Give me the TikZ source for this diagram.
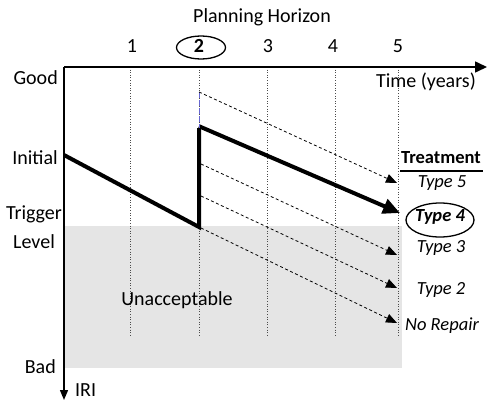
\documentclass[tikz,border=0pt]{standalone}
\usepackage{fontspec}
\setmainfont{Carlito}
\usetikzlibrary{arrows.meta,shapes.geometric}
\begin{document}
\begin{tikzpicture}[x=1pt,y=-1pt,
  lab/.style={inner sep=0pt,font=\fontsize{20}{22}\selectfont},
  tlab/.style={inner sep=0pt,font=\fontsize{18.5}{20}\selectfont\itshape},
  axis/.style={line width=1.6pt,-{Triangle[length=12pt,width=11pt]}},
  gridline/.style={black!70,line width=0.6pt,dotted},
  unacc/.style={fill=black!10},
  perf/.style={line width=4pt,line cap=butt,line join=miter},
  perfarrow/.style={line width=4pt,-{Triangle[length=17pt,width=15pt]}},
  option/.style={line width=0.8pt,dash pattern=on 3pt off 2.5pt,-{Triangle[length=11pt,width=9pt]}},
  ring/.style={draw,ellipse,line width=1.3pt}]
\useasboundingbox (0,0) rectangle (487,402);
% unacceptable zone
\fill[unacc] (64,226) rectangle (402,368);
% grid lines
\foreach \x in {130,199,267,335,398}
  \draw[gridline] (\x,67) -- (\x,337);
% axes
\coordinate (O) at (64,67);
\coordinate (xend) at (487,67);
\coordinate (yend) at (64,400);
\draw[axis] (O) -- (xend);
\draw[axis,line width=1.4pt,-{Triangle[length=10pt,width=8pt]}] (O) -- (yend);
% top labels
\node[lab] (ph) at (262,17) {Planning Horizon};
\node[lab] (n1) at (132,46) {1};
\node[lab,font=\fontsize{20}{22}\selectfont\bfseries] (n2) at (199,46) {2};
\node[ring,minimum width=49pt,minimum height=23pt,inner sep=0pt] (r2) at (201,47.5) {};
\node[lab] (n3) at (268,46) {3};
\node[lab] (n4) at (333,46) {4};
\node[lab] (n5) at (398,46) {5};
\node[lab,anchor=east] (time) at (476,82) {Time (years)};
% left labels
\node[lab,anchor=east] (good) at (58,78) {Good};
\node[lab,anchor=east] (init) at (58,158) {Initial};
\node[lab] (trig) at (34,214) {Trigger};
\node[lab] (lvl) at (34,242) {Level};
\node[lab,anchor=east] (bad) at (56,367) {Bad};
\node[lab,anchor=west] (iri) at (75,390) {IRI};
\node[lab] (unac) at (177,300) {Unacceptable};
% treatment labels
\node[lab,font=\fontsize{18.5}{20}\selectfont\bfseries] (treat) at (441,158) {Treatment};
\coordinate (ul1) at (400,171);
\coordinate (ul2) at (483,171);
\draw[line width=1.2pt] (ul1) -- (ul2);
\node[tlab] (t5) at (442,183) {Type 5};
\node[tlab,font=\fontsize{18.5}{20}\selectfont\bfseries\itshape] (t4) at (440,217) {Type 4};
\node[ring,minimum width=68pt,minimum height=34pt,inner sep=0pt] (r4) at (440,220) {};
\node[tlab] (t3) at (441,248) {Type 3};
\node[tlab] (t2) at (441,290) {Type 2};
\node[tlab] (t0) at (442,326) {No Repair};
% performance curve
\coordinate (p0) at (64,155);
\coordinate (p1) at (199,227);
\coordinate (p2) at (199,128);
\coordinate (p3) at (400,213);
\draw[perf] (p0) -- (p1) -- (p2);
\draw[perfarrow] ([yshift=1.8pt]p2) -- (p3);
% blue dashed jump to Type 5
\coordinate (b0) at (199,92);
\draw[blue!70!black!60,line width=0.9pt,dash pattern=on 6pt off 2pt] (b0) -- (p2);
% treatment option lines
\coordinate (e5) at (397,183);
\coordinate (s3) at (201,164);
\coordinate (e3) at (397,255);
\coordinate (s2) at (201,196);
\coordinate (e2) at (397,288);
\coordinate (s0) at (201,228);
\coordinate (e0) at (397,323);
\draw[option] (b0) -- (e5);
\draw[option] (s3) -- (e3);
\draw[option] (s2) -- (e2);
\draw[option] (s0) -- (e0);
\end{tikzpicture}
\end{document}
